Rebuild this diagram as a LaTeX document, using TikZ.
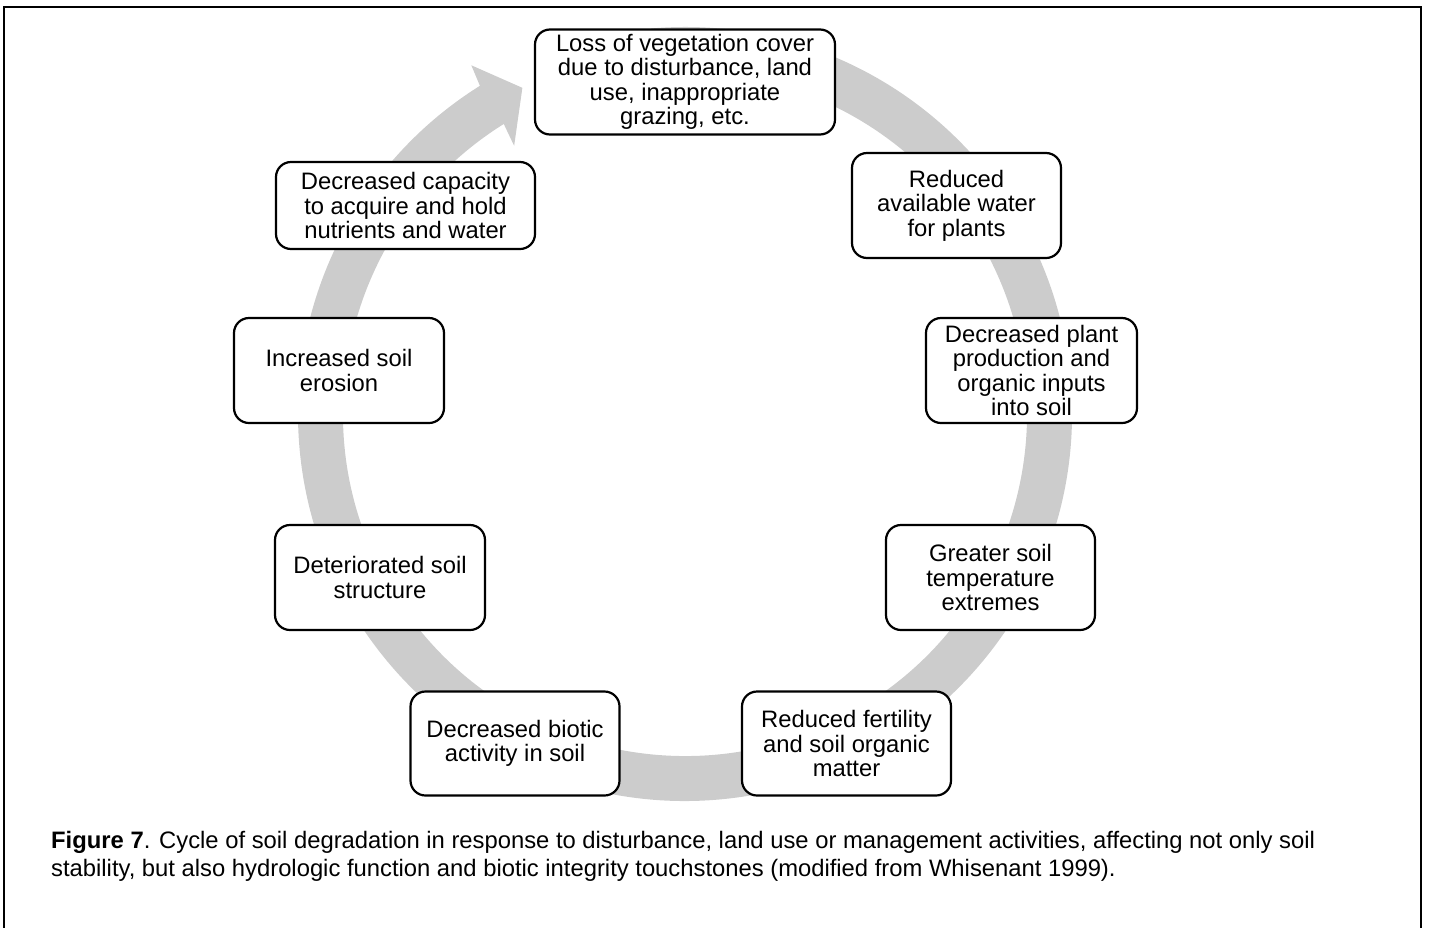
\documentclass[tikz,border=0pt]{standalone}
\usepackage{fontspec}
\setmainfont{Liberation Sans}
\begin{document}
\begin{tikzpicture}[x=1pt,y=1pt,
  stagebox/.style={draw=black, line width=2.2pt, rounded corners=15pt, fill=white,
    align=center, inner sep=0pt, font=\fontsize{23.8}{24.5}\selectfont},
  ringgrey/.style={fill=black!20}]
\useasboundingbox (0,0) rectangle (1429,-927);
\draw[line width=2.6pt] (4,-7) rectangle (1421,-940);
% grey cycle arrow
\fill[ringgrey] ([shift={(685,-414)}]95:387) arc[start angle=95, end angle=-238, radius=387]
  -- ([shift={(685,-414)}]-238.5:409) -- ([shift={(685,-414)}]-243.5:364.5)
  -- ([shift={(685,-414)}]-237.5:318) -- ([shift={(685,-414)}]-238:342)
  arc[start angle=-238, end angle=95, radius=342] -- cycle;
% boxes
\node[stagebox, minimum width=300pt, minimum height=105pt] (loss) at (685,-82)
  {Loss of vegetation cover\\due to disturbance, land\\use, inappropriate\\grazing, etc.};
\node[stagebox, minimum width=209pt, minimum height=105pt] (water) at (956.5,-205.5)
  {Reduced\\available water\\for plants};
\node[stagebox, minimum width=211pt, minimum height=105pt] (plant) at (1031.5,-370.5)
  {Decreased plant\\production and\\organic inputs\\into soil};
\node[stagebox, minimum width=209pt, minimum height=105pt] (temp) at (990.5,-577.5)
  {Greater soil\\temperature\\extremes};
\node[stagebox, minimum width=209pt, minimum height=104pt] (fert) at (846.5,-743.5)
  {Reduced fertility\\and soil organic\\matter};
\node[stagebox, minimum width=209pt, minimum height=104pt] (biotic) at (515,-743.5)
  {Decreased biotic\\activity in soil};
\node[stagebox, minimum width=210pt, minimum height=105pt] (struct) at (380,-577.5)
  {Deteriorated soil\\structure};
\node[stagebox, minimum width=210pt, minimum height=105pt] (erosion) at (339,-370.5)
  {Increased soil\\erosion};
\node[stagebox, minimum width=259pt, minimum height=87pt] (capacity) at (405.5,-205.5)
  {Decreased capacity\\to acquire and hold\\nutrients and water};
% caption
\node[anchor=base west, align=left, inner sep=0pt, font=\fontsize{23.8}{28}\selectfont] (caption) at (51,-876)
  {\textbf{Figure 7}. Cycle of soil degradation in response to disturbance, land use or management activities, affecting not only soil\\
   stability, but also hydrologic function and biotic integrity touchstones (modified from Whisenant 1999).};
\end{tikzpicture}
\end{document}
